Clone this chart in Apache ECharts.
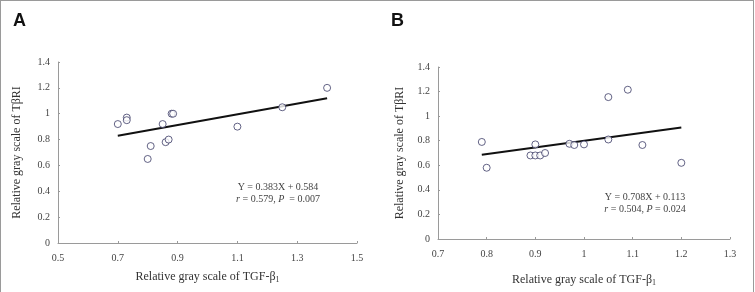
<!DOCTYPE html>
<html><head><meta charset="utf-8">
<script src="https://cdn.jsdelivr.net/npm/echarts@6/dist/echarts.min.js"></script>
<style>
html,body{margin:0;padding:0;background:#fff;}
#frame{position:absolute;left:0;top:0;width:752px;height:292px;border-left:1.5px solid #9a9a9a;border-right:1.5px solid #9a9a9a;border-top:1.5px solid #9a9a9a;box-sizing:content-box;}
#c{position:absolute;left:0;top:0;width:755px;height:292px;}
</style></head>
<body>
<div id="c"></div>
<div id="frame"></div>
<script>
// Panel A data
const aX = [0.70, 0.73, 0.73, 0.80, 0.81, 0.85, 0.86, 0.87, 0.88, 0.885, 1.10, 1.25, 1.40];
const aY = [0.92, 0.97, 0.95, 0.65, 0.75, 0.92, 0.78, 0.80, 1.00, 1.00, 0.90, 1.05, 1.20];
const aFitX = [0.70, 1.40];
const aFitY = [0.83, 1.12];
// Panel B data
const bX = [0.79, 0.80, 0.89, 0.90, 0.90, 0.91, 0.92, 0.97, 0.98, 1.00, 1.05, 1.05, 1.09, 1.12, 1.20];
const bY = [0.79, 0.58, 0.68, 0.77, 0.68, 0.68, 0.70, 0.775, 0.765, 0.77, 1.155, 0.81, 1.215, 0.765, 0.62];
const bFitX = [0.79, 1.20];
const bFitY = [0.686, 0.907];
// tick settings
const aXTicks = {min: 0.5, max: 1.5, interval: 0.2};
const bXTicks = {min: 0.7, max: 1.3, interval: 0.1};
const yTicks = {min: 0, max: 1.4, interval: 0.2};

const serif = '"Liberation Serif", "Times New Roman", serif';
const zip = (xs, ys) => xs.map((x, i) => [x, ys[i]]);

const xName = 'Relative gray scale of TGF-β{s|1}';
const yName = 'Relative gray scale of TβRI';

function xAxis(idx, t, gap) {
  return {
    type: 'value', gridIndex: idx, min: t.min, max: t.max, interval: t.interval,
    name: xName, nameLocation: 'middle', nameGap: gap,
    nameTextStyle: {fontFamily: serif, fontSize: 12, color: '#333',
      rich: {s: {fontFamily: serif, fontSize: 8, color: '#333', padding: [7, 0, 0, 0]}}},
    axisLine: {lineStyle: {color: '#9a9a9a', width: 1}},
    axisTick: {inside: true, length: 2, lineStyle: {color: '#9a9a9a'}},
    axisLabel: {fontFamily: serif, fontSize: 10, color: '#444', margin: 10,
      formatter: v => String(+v.toFixed(2))},
    splitLine: {show: false}
  };
}
function yAxis(idx, gap) {
  return {
    type: 'value', gridIndex: idx, min: yTicks.min, max: yTicks.max, interval: yTicks.interval,
    name: yName, nameLocation: 'middle', nameGap: gap,
    nameTextStyle: {fontFamily: serif, fontSize: 12, color: '#333'},
    axisLine: {show: true, lineStyle: {color: '#9a9a9a', width: 1}},
    axisTick: {show: true, inside: true, length: 2, lineStyle: {color: '#9a9a9a'}},
    axisLabel: {fontFamily: serif, fontSize: 10, color: '#444', margin: 8,
      formatter: v => String(+v.toFixed(1))},
    splitLine: {show: false}
  };
}
const sym = {color: '#fff', borderColor: '#3c3c66', borderWidth: 1};

const chart = echarts.init(document.getElementById('c'), null, {renderer: 'canvas'});
chart.setOption({
  animation: false,
  grid: [
    {left: 58, top: 62, width: 299, height: 181},
    {left: 438, top: 67, width: 292, height: 173}
  ],
  xAxis: [xAxis(0, aXTicks, 26), xAxis(1, bXTicks, 33)],
  yAxis: [yAxis(0, 35), yAxis(1, 32)],
  series: [
    {type: 'line', xAxisIndex: 0, yAxisIndex: 0, data: zip(aFitX, aFitY), symbol: 'none',
      lineStyle: {color: '#111', width: 2}, z: 1},
    {type: 'scatter', xAxisIndex: 0, yAxisIndex: 0, data: zip(aX, aY), symbolSize: 7, itemStyle: sym, z: 2},
    {type: 'line', xAxisIndex: 1, yAxisIndex: 1, data: zip(bFitX, bFitY), symbol: 'none',
      lineStyle: {color: '#111', width: 2}, z: 1},
    {type: 'scatter', xAxisIndex: 1, yAxisIndex: 1, data: zip(bX, bY), symbolSize: 7, itemStyle: sym, z: 2}
  ],
  graphic: [
    {type: 'text', left: 13, top: 12, style: {text: 'A', font: 'bold 18px "Liberation Sans", Arial, sans-serif', fill: '#111'}},
    {type: 'text', left: 391, top: 12, style: {text: 'B', font: 'bold 18px "Liberation Sans", Arial, sans-serif', fill: '#111'}},
    {type: 'text', x: 278, y: 182, style: {text: 'Y = 0.383X + 0.584', font: '10px ' + serif, fill: '#444', align: 'center'}},
    {type: 'text', x: 278, y: 194, style: {text: '{i|r} = 0.579, {i|P}  = 0.007', font: '10px ' + serif, fill: '#444', align: 'center',
      rich: {i: {fontStyle: 'italic', fontFamily: serif, fontSize: 10, fill: '#444'}}}},
    {type: 'text', x: 645, y: 192, style: {text: 'Y = 0.708X + 0.113', font: '10px ' + serif, fill: '#444', align: 'center'}},
    {type: 'text', x: 645, y: 204, style: {text: '{i|r} = 0.504, {i|P} = 0.024', font: '10px ' + serif, fill: '#444', align: 'center',
      rich: {i: {fontStyle: 'italic', fontFamily: serif, fontSize: 10, fill: '#444'}}}}
  ]
});
</script>
</body></html>
